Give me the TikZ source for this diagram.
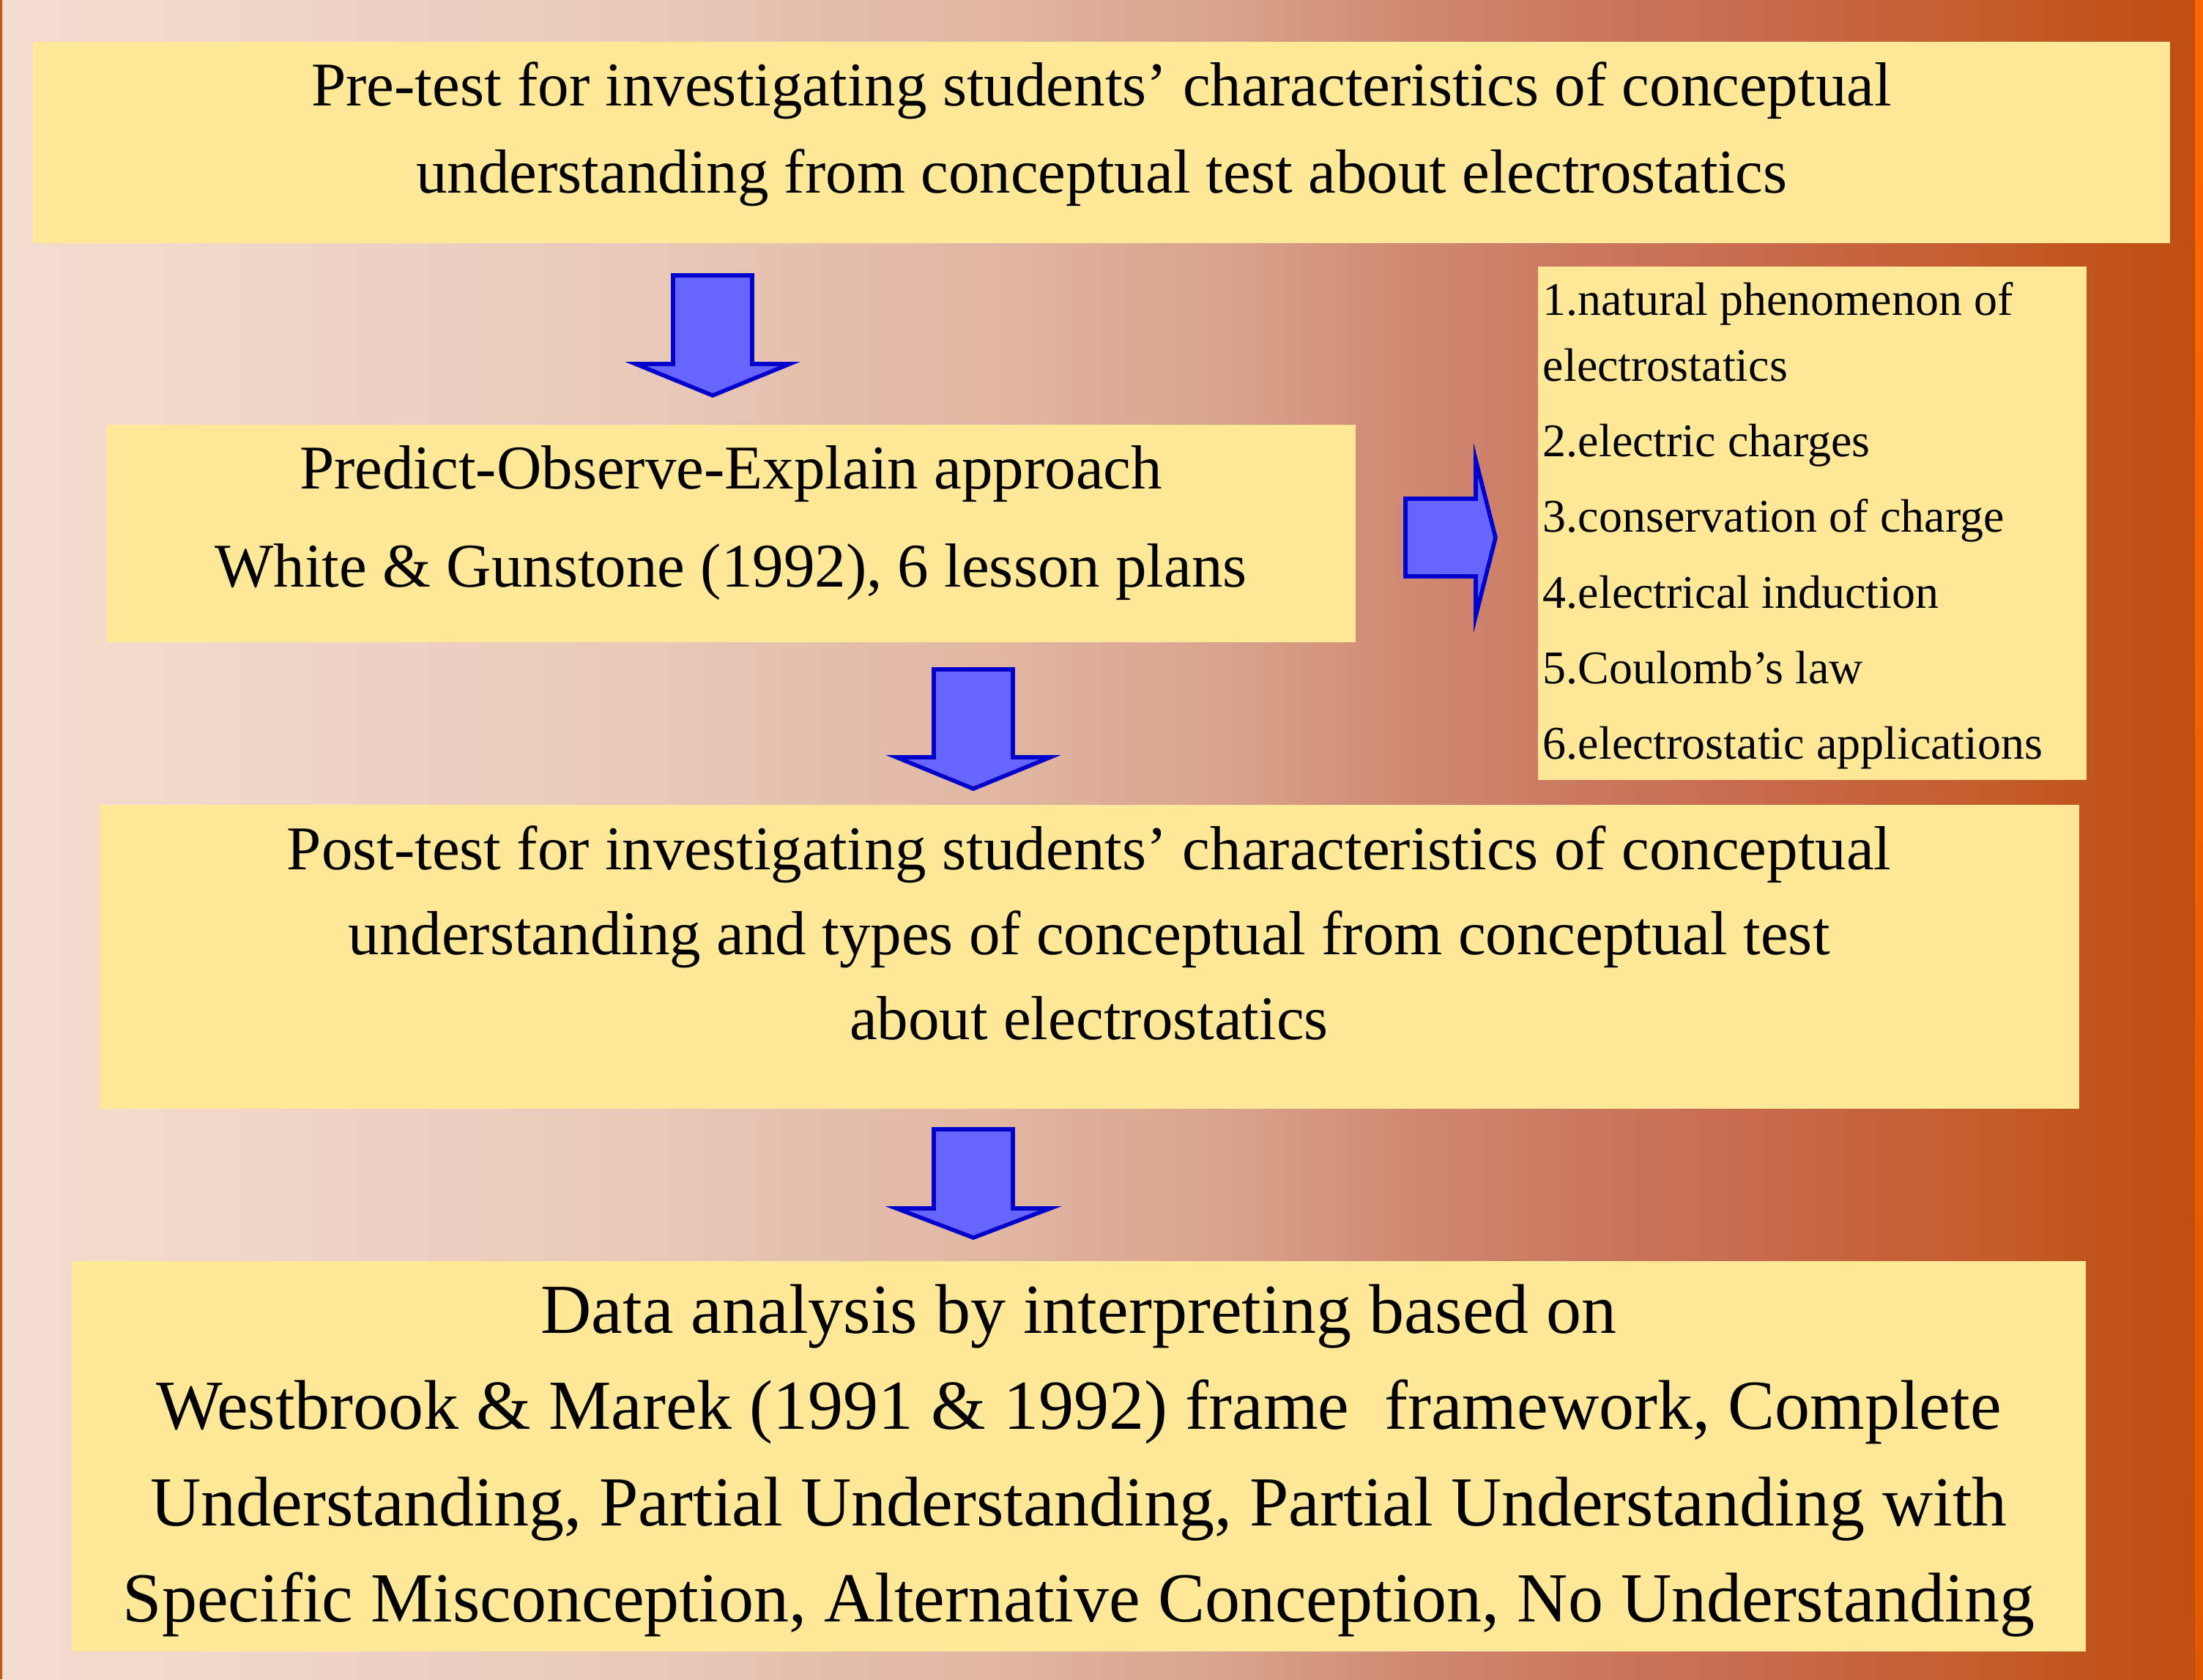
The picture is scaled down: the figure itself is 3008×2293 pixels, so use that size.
\documentclass[tikz,border=0pt]{standalone}
\usepackage{fontspec}
\setmainfont{Liberation Serif}
\usetikzlibrary{fit}

% palette
\definecolor{boxfill}{RGB}{255,233,153}
\definecolor{arrowfill}{RGB}{102,102,255}
\definecolor{arrowline}{RGB}{0,0,204}
\definecolor{edgeL}{RGB}{200,84,16}
\definecolor{edgeTop}{RGB}{255,102,0}
\definecolor{edgeBot}{RGB}{224,88,0}
\definecolor{bgA}{RGB}{243,221,208}
\definecolor{bgB}{RGB}{239,212,197}
\definecolor{bgC}{RGB}{232,200,184}
\definecolor{bgD}{RGB}{224,180,160}
\definecolor{bgE}{RGB}{216,160,138}
\definecolor{bgF}{RGB}{209,139,116}
\definecolor{bgG}{RGB}{203,120,96}
\definecolor{bgH}{RGB}{200,106,76}
\definecolor{bgI}{RGB}{196,92,45}
\definecolor{bgJ}{RGB}{191,78,16}

% left-to-right background wash (25bp..75bp spans the filled area)
\pgfdeclarehorizontalshading{pagebg}{100bp}{%
  color(0bp)=(bgA); color(25bp)=(bgA); color(32.5bp)=(bgB); color(40bp)=(bgC);
  color(48.4bp)=(bgD); color(53.4bp)=(bgE); color(56.7bp)=(bgF); color(60.9bp)=(bgG);
  color(65bp)=(bgH); color(70bp)=(bgI); color(75bp)=(bgJ); color(100bp)=(bgJ)}

\begin{document}
\begin{tikzpicture}[x=0.25pt, y=-0.25pt,
  box/.style={fill=boxfill, draw=none, inner sep=0pt},
  bigtxt/.style={font=\fontsize{21.25pt}{25pt}\selectfont, inner sep=0pt, anchor=base},
  hugetxt/.style={font=\fontsize{24pt}{28pt}\selectfont, inner sep=0pt, anchor=base},
  listtxt/.style={font=\fontsize{16pt}{19pt}\selectfont, inner sep=0pt, anchor=base west},
  blockarrow/.style={fill=arrowfill, draw=arrowline, line width=1.4pt, line join=miter, miter limit=20}]

\useasboundingbox (0,0) rectangle (3008,2293);

% background
\shade[shading=pagebg] (3,0) rectangle (2997,2293);
\fill[edgeL] (0,0) rectangle (3,2293);
\shade[top color=edgeTop, bottom color=edgeBot] (2997,0) rectangle (3008,2293);

% boxes
\node[box, fit={(45,57) (2963,332)}] (pre) {};
\node[box, fit={(146,580) (1851,877)}] (poe) {};
\node[box, fit={(2100,364) (2849,1065)}] (topics) {};
\node[box, fit={(136,1099) (2839,1514)}] (post) {};
\node[box, fit={(98,1722) (2848,2255)}] (analysis) {};

% pre-test
\node[bigtxt] (pre1) at (1504,144) {Pre-test for investigating students’ characteristics of conceptual};
\node[bigtxt] (pre2) at (1504,263) {understanding from conceptual test about electrostatics};

% POE approach
\node[bigtxt] (poe1) at (998,667) {Predict-Observe-Explain approach};
\node[bigtxt] (poe2) at (998,801) {White \& Gunstone (1992), 6 lesson plans};

% lesson topics
\node[listtxt] (top1) at (2106,430) {1.natural phenomenon of};
\node[listtxt] (top1b) at (2106,520) {electrostatics};
\node[listtxt] (top2) at (2106,623) {2.electric charges};
\node[listtxt] (top3) at (2106,726) {3.conservation of charge};
\node[listtxt] (top4) at (2106,830) {4.electrical induction};
\node[listtxt] (top5) at (2106,933) {5.Coulomb’s law};
\node[listtxt] (top6) at (2106,1036) {6.electrostatic applications};

% post-test
\node[bigtxt] (post1) at (1487,1187) {Post-test for investigating students’ characteristics of conceptual};
\node[bigtxt] (post2) at (1487,1303) {understanding and types of conceptual from conceptual test};
\node[bigtxt] (post3) at (1487,1419) {about electrostatics};

% data analysis
\node[hugetxt] (ana1) at (1473,1820) {Data analysis by interpreting based on};
\node[hugetxt] (ana2) at (1473,1951) {Westbrook \& Marek (1991 \& 1992) frame\ \ framework, Complete};
\node[hugetxt] (ana3) at (1473,2083) {Understanding, Partial Understanding, Partial Understanding with};
\node[hugetxt] (ana4) at (1473,2214) {Specific Misconception, Alternative Conception, No Understanding};

% block arrows
\coordinate (dn1) at (973,376);
\coordinate (dn2) at (1329,914);
\coordinate (dn3) at (1329,1542);
\coordinate (rt1) at (1919,681);
\draw[blockarrow] (dn1) ++(-54,0) -- ++(108,0) -- ++(0,121) -- ++(51,0) -- ++(-105,43) -- ++(-105,-43) -- ++(51,0) -- cycle;
\draw[blockarrow] (dn2) ++(-54,0) -- ++(108,0) -- ++(0,120) -- ++(51,0) -- ++(-105,43) -- ++(-105,-43) -- ++(51,0) -- cycle;
\draw[blockarrow] (dn3) ++(-54,0) -- ++(108,0) -- ++(0,108) -- ++(51,0) -- ++(-105,40) -- ++(-105,-40) -- ++(51,0) -- cycle;
\draw[blockarrow] (rt1) -- ++(96,0) -- ++(0,-53) -- ++(27,106) -- ++(-27,107) -- ++(0,-54) -- ++(-96,0) -- cycle;

\end{tikzpicture}
\end{document}
